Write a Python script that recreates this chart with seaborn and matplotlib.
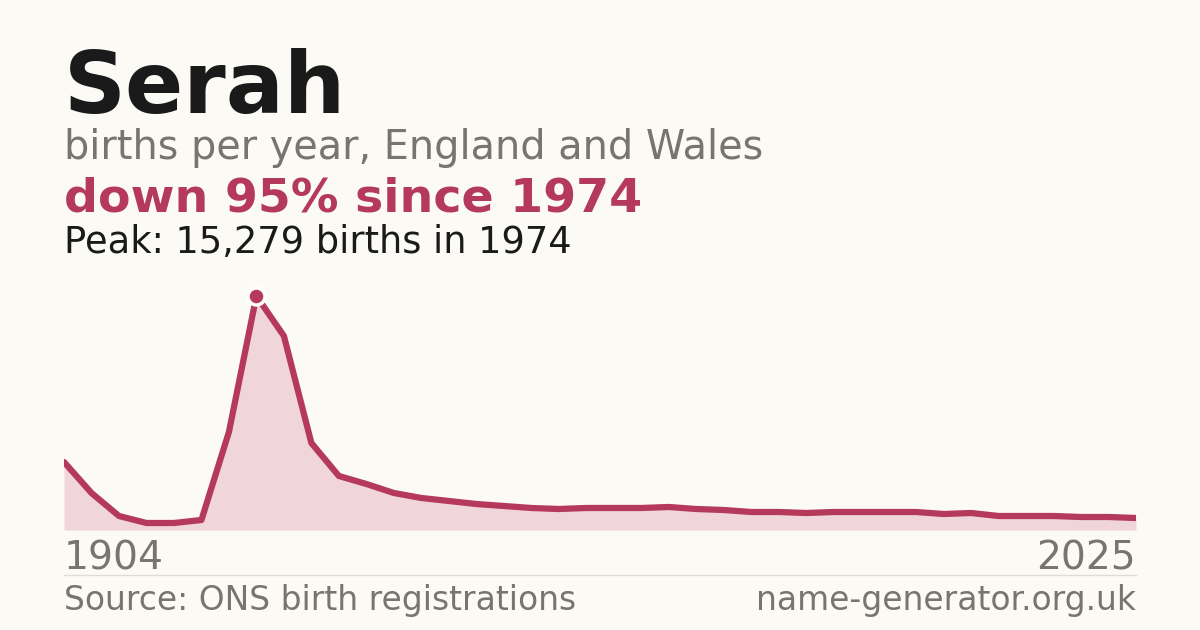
import matplotlib
matplotlib.use("Agg")
import matplotlib.pyplot as plt
import seaborn as sns
import pandas as pd

births = [4440, 2416, 914, 457, 457, 653, 6400, 15279, 12670, 5680, 3527, 3004, 2416, 2090,
          1894, 1698, 1567, 1437, 1371, 1437, 1437, 1437, 1502, 1371, 1306, 1175, 1175, 1110,
          1175, 1175, 1175, 1175, 1045, 1110, 914, 914, 914, 849, 849, 784]
first_year, last_year = "1904", "2025"
peak_label = "Peak: 15,279 births in 1974"

df = pd.DataFrame({"i": range(len(births)), "births": births})
W, H = 1200, 630
bg = "#fbfaf5"; red = "#b5395a"; grey = "#777570"
sns.set_theme(style="white")
plt.rcParams['font.family'] = ['DejaVu Sans']
fig = plt.figure(figsize=(12, 6.3), dpi=100, facecolor=bg)
ax = fig.add_axes([64/W, 100/H, 1072/W, 234/H])
ax.set_facecolor(bg)
ax.fill_between(df["i"], df["births"], color="#f0d5db", lw=0)
sns.lineplot(data=df, x="i", y="births", ax=ax, color=red, lw=4.5)
pk = df["births"].idxmax()
ax.scatter([pk], [births[pk]], s=150, color=red, edgecolor="white", lw=2.5, zorder=5, clip_on=False)
ax.set_xlim(0, len(births)-1); ax.set_ylim(0, max(births))
ax.axis("off")

def t(x, y, s, **kw):
    fig.text(x/W, 1-y/H, s, va="baseline", **kw)
t(64, 113, "Serah", fontsize=62, fontweight="bold", color="#1a1a1a")
t(64, 159, "births per year, England and Wales", fontsize=28.6, color=grey)
t(64, 212, "down 95% since 1974", fontsize=34.2, fontweight="bold", color=red)
t(64, 253, peak_label, fontsize=26.5, color="#1a1a1a")
t(64, 569, first_year, fontsize=28.3, color=grey)
t(1136, 569, last_year, fontsize=28.3, color=grey, ha="right")
t(64, 610, "Source: ONS birth registrations", fontsize=23.7, color=grey)
t(1136, 610, "name-generator.org.uk", fontsize=23.7, color=grey, ha="right")
fig.add_artist(plt.Line2D([64/W, 1136/W], [1-575/H]*2, color="#dedcd6", lw=1))
fig.savefig("out.png", facecolor=bg)
